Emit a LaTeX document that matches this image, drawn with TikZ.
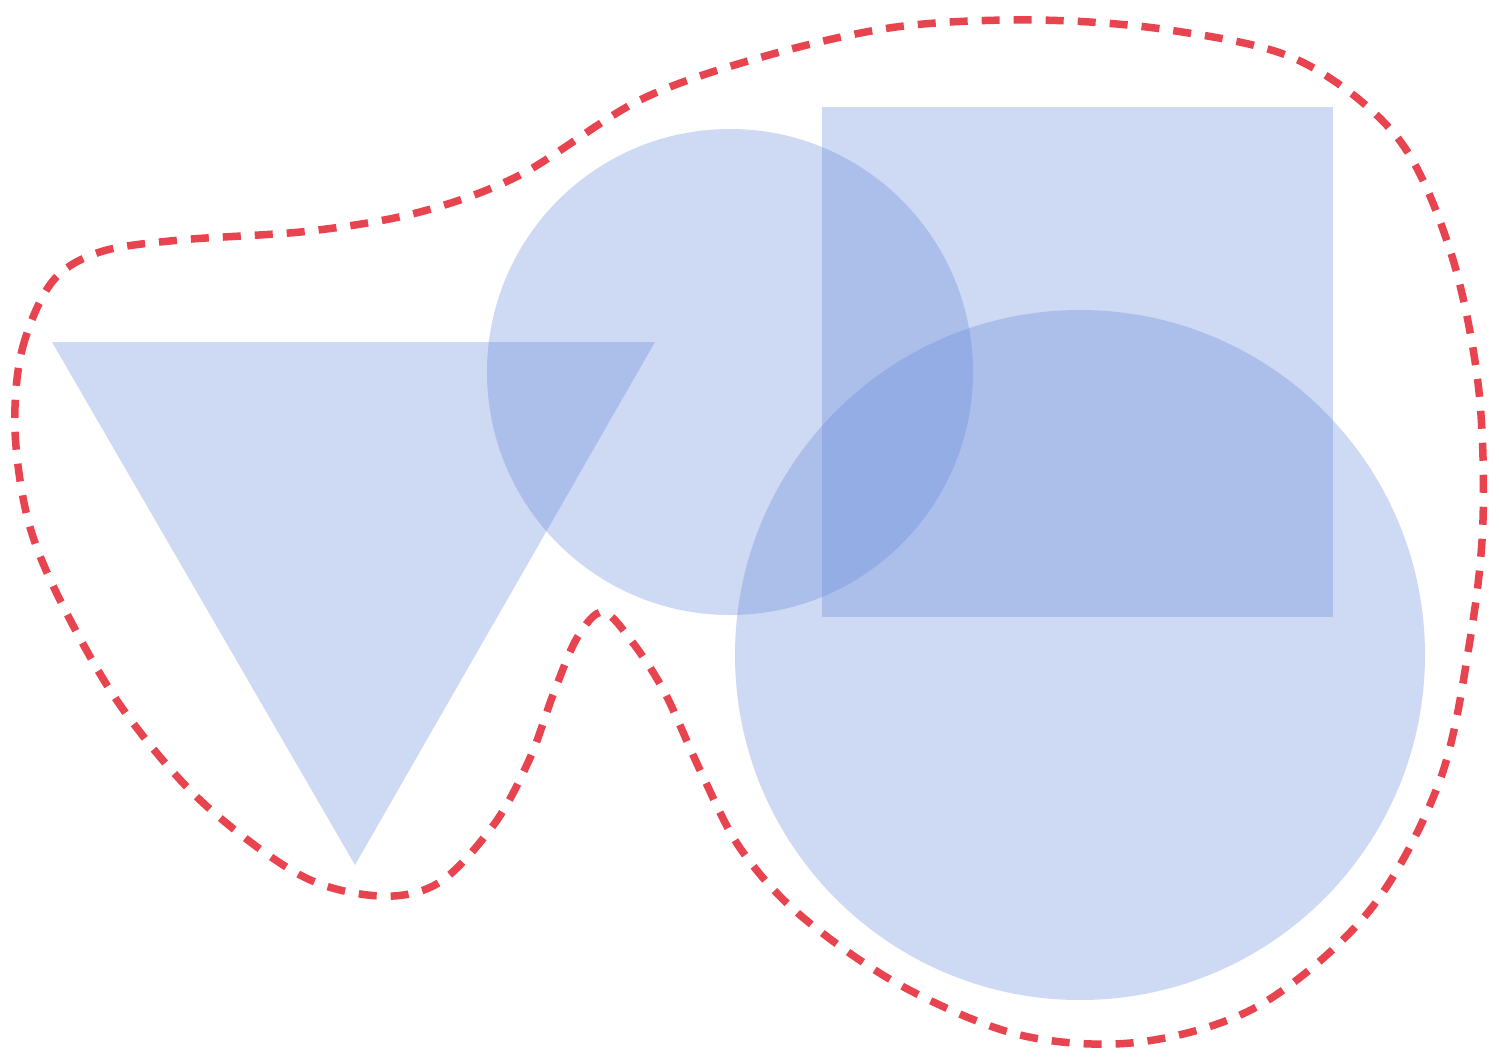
\documentclass[tikz,border=0pt]{standalone}
\begin{document}
\begin{tikzpicture}[x=0.01cm,y=-0.01cm,
  shapefill/.style={fill={rgb,255:red,95;green,132;blue,218},fill opacity=0.3,draw=none},
  outline/.style={draw={rgb,255:red,232;green,68;blue,80},line width=0.075cm,dash pattern=on 0.18cm off 0.14cm}]
\useasboundingbox[fill=white] (0,0) rectangle (1499,1060);
\fill[shapefill] (52,342) -- (655,342) -- (355,865) -- cycle;
\fill[shapefill] (730,372) circle[radius=243];
\fill[shapefill] (822,107) rectangle (1333,617);
\fill[shapefill] (1080,655) circle[radius=345];
\draw[outline] plot[smooth cycle,tension=0.55] coordinates {
 (15,430) (22,350) (52,282) (100,252) (180,240) (310,231) (420,212)
 (520,175) (640,100) (762,57) (896,27) (1035,20) (1169,30) (1298,60)
 (1397,137) (1450,250) (1478,383) (1483,520) (1470,640) (1440,780)
 (1370,910) (1260,1005) (1140,1042) (1020,1035) (900,985) (800,915)
 (740,848) (700,770) (665,693) (633,643) (603,612) (577,638) (553,695)
 (530,758) (495,823) (440,882) (380,896) (300,875) (200,800) (120,705)
 (60,600) (28,520)};
\end{tikzpicture}
\end{document}
